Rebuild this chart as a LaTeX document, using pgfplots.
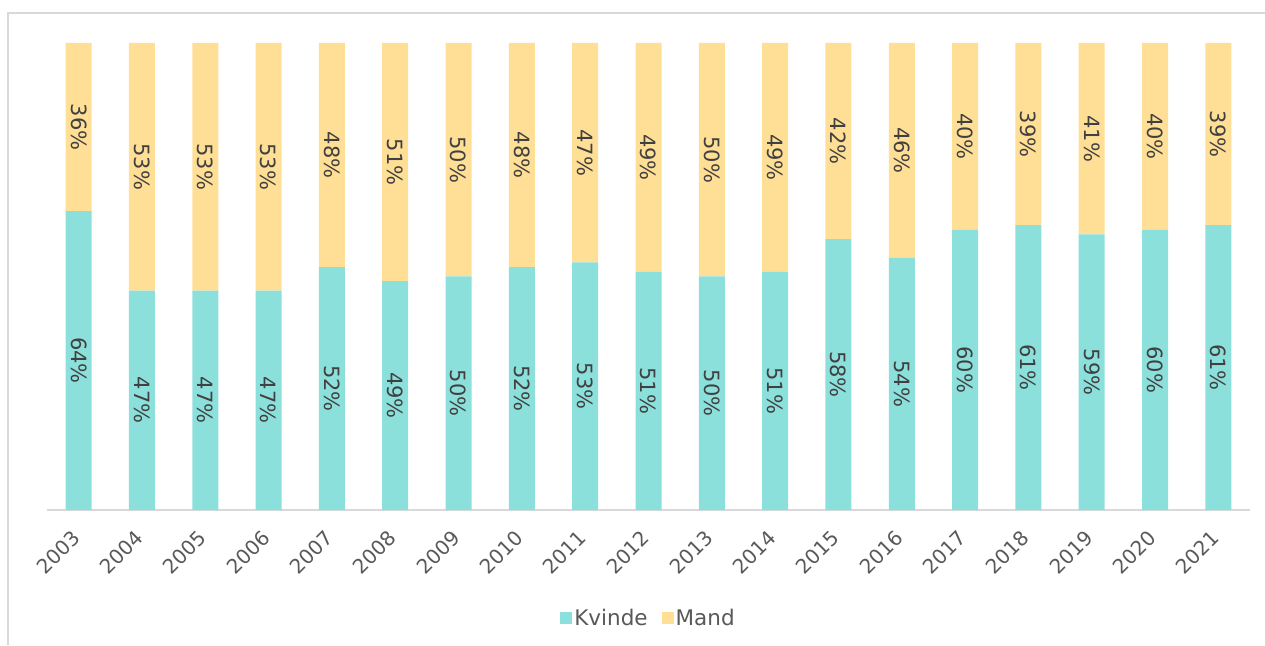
\documentclass[border=0pt]{standalone}
\usepackage{pgfplots}
\pgfplotsset{compat=1.18}
\usepackage{fontspec}
\setmainfont{DejaVu Sans}
\definecolor{kv}{HTML}{8CE0DC}
\definecolor{ma}{HTML}{FFDF95}
\definecolor{txt}{HTML}{404040}
\definecolor{tick}{HTML}{595959}
\definecolor{frame}{HTML}{D9D9D9}
\begin{document}
\begin{tikzpicture}
\useasboundingbox (0,0) rectangle (1265pt,645pt);
\draw[frame, line width=1.5pt] (8pt,0) -- (8pt,632pt) -- (1265pt,632pt);
\begin{axis}[
  at={(47pt,135pt)}, anchor=south west,
  scale only axis, width=1203pt, height=467pt,
  xmin=-0.5, xmax=18.5, ymin=0, ymax=100,
  axis x line*=bottom, axis y line=none,
  x axis line style={frame, line width=1.5pt, -},
  ybar stacked, bar width=26pt,
  xtick={0,...,18},
  xticklabels={2003,2004,2005,2006,2007,2008,2009,2010,2011,2012,2013,2014,2015,2016,2017,2018,2019,2020,2021},
  major tick length=0pt,
  xticklabel style={xshift=-8pt, yshift=-19pt, rotate=45, anchor=north east, font=\fontsize{20}{24}\selectfont, text=tick, inner sep=0pt},
  /pgf/number format/assume math mode=true,
  point meta=rawy,
  nodes near coords={\pgfmathprintnumber[assume math mode=true]{\pgfplotspointmeta}\%},
  every node near coord/.append style={rotate=-90, anchor=center, font=\fontsize{21}{24}\selectfont, text=txt},
  legend columns=2,
  legend style={at={(0.5,-0.2313)}, anchor=center, draw=none, font=\fontsize{21.5}{24}\selectfont, text=tick, /tikz/every even column/.append style={column sep=12pt}},
  legend image code/.code={\fill[#1] (0pt,-6pt) rectangle (12pt,6pt);},
]
\addplot[fill=kv, draw=none] coordinates {
(0,64) (1,47) (2,47) (3,47) (4,52) (5,49) (6,50) (7,52) (8,53) (9,51)
(10,50) (11,51) (12,58) (13,54) (14,60) (15,61) (16,59) (17,60) (18,61)};
\addplot[fill=ma, draw=none] coordinates {
(0,36) (1,53) (2,53) (3,53) (4,48) (5,51) (6,50) (7,48) (8,47) (9,49)
(10,50) (11,49) (12,42) (13,46) (14,40) (15,39) (16,41) (17,40) (18,39)};
\legend{Kvinde, Mand}
\end{axis}
\end{tikzpicture}
\end{document}
